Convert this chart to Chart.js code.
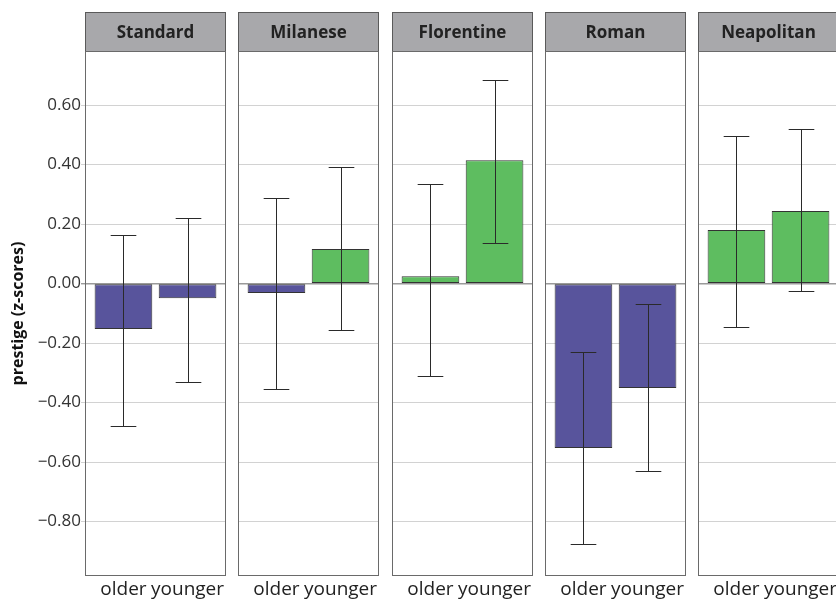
<!DOCTYPE html>
<html>
<head>
<meta charset="utf-8">
<script src="https://cdn.jsdelivr.net/npm/chart.js@4.4.1/dist/chart.umd.min.js"></script>
<style>
  body { margin: 0; background: #fff; }
  #wrap { position: relative; width: 836px; height: 602px; overflow: hidden; }
  #wrap canvas { position: absolute; top: 0; }
</style>
</head>
<body>
<div id="wrap"></div>
<script>
const dialects = ['Standard', 'Milanese', 'Florentine', 'Roman', 'Neapolitan'];
const ages = ['older', 'younger'];
const olderMean = [-0.153, -0.032, 0.025, -0.553, 0.180];
const youngerMean = [-0.049, 0.116, 0.415, -0.351, 0.244];
const olderLow = [-0.479, -0.355, -0.311, -0.876, -0.146];
const olderHigh = [0.163, 0.287, 0.334, -0.230, 0.496];
const youngerLow = [-0.331, -0.156, 0.136, -0.630, -0.025];
const youngerHigh = [0.220, 0.392, 0.684, -0.069, 0.519];
const yTicks = [-0.8, -0.6, -0.4, -0.2, 0, 0.2, 0.4, 0.6];

const PURPLE = '#58549c';
const GREEN = '#5ebd60';
const FONT = "'Open Sans', 'DejaVu Sans', sans-serif";

const fmt = v => (v < 0 ? '\u2212' : '') + Math.abs(v).toFixed(2);

// gray strip behind the facet title
const stripPlugin = {
  id: 'strip',
  beforeDraw(chart) {
    const { ctx, chartArea } = chart;
    ctx.save();
    ctx.fillStyle = '#a8a8ab';
    ctx.fillRect(chartArea.left, 12, chartArea.right - chartArea.left, chartArea.top - 12);
    ctx.restore();
  },
  afterDraw(chart) {
    const { ctx, chartArea } = chart;
    ctx.save();
    ctx.strokeStyle = '#5a5a5a';
    ctx.lineWidth = 1;
    ctx.strokeRect(Math.round(chartArea.left) + 0.5, 12.5, Math.round(chartArea.right - chartArea.left) - 1, Math.round(chartArea.top) - 12);
    ctx.strokeStyle = '#6a6a6a';
    ctx.strokeRect(Math.round(chartArea.left) + 0.5, Math.round(chartArea.top) + 0.5,
      Math.round(chartArea.right - chartArea.left) - 1, Math.round(chartArea.bottom - chartArea.top) - 1);
    ctx.restore();
  }
};

// error bars
const errorPlugin = {
  id: 'errbars',
  afterDatasetsDraw(chart, args, opts) {
    const { ctx, scales } = chart;
    const x = scales.x, y = scales.y;
    const half = x.getPixelForValue(1.2) - x.getPixelForValue(1);
    ctx.save();
    ctx.strokeStyle = '#2a2a2a';
    ctx.lineWidth = 1;
    opts.low.forEach((lo, j) => {
      const px = Math.round(x.getPixelForValue(j + 1)) + 0.5;
      const y1 = y.getPixelForValue(lo);
      const y2 = y.getPixelForValue(opts.high[j]);
      ctx.beginPath();
      ctx.moveTo(px, y1); ctx.lineTo(px, y2);
      ctx.moveTo(px - half, Math.round(y1) + 0.5); ctx.lineTo(px + half, Math.round(y1) + 0.5);
      ctx.moveTo(px - half, Math.round(y2) + 0.5); ctx.lineTo(px + half, Math.round(y2) + 0.5);
      ctx.stroke();
    });
    ctx.restore();
  }
};

const wrap = document.getElementById('wrap');
const panelW = 141;

dialects.forEach((name, i) => {
  const first = i === 0;
  const chartLeft = Math.round(85 + 153.25 * i);
  const yW = first ? 85 : 0;
  const canvas = document.createElement('canvas');
  const cw = yW + panelW + (first ? 1 : 2);
  canvas.width = cw;
  canvas.height = 602;
  canvas.style.left = (first ? 0 : chartLeft - 1) + 'px';
  canvas.style.width = cw + 'px';
  canvas.style.height = '602px';
  wrap.appendChild(canvas);

  const means = [olderMean[i], youngerMean[i]];

  new Chart(canvas, {
    type: 'bar',
    data: {
      datasets: [{
        data: ages.map((a, j) => ({ x: j + 1, y: means[j] })),
        backgroundColor: means.map(v => v < 0 ? PURPLE : GREEN),
        borderColor: '#333',
        borderWidth: 1,
        borderSkipped: false,
        categoryPercentage: 1,
        barPercentage: 0.9
      }]
    },
    options: {
      responsive: false,
      animation: false,
      layout: { padding: { top: 12, left: first ? 0 : 1, right: 1, bottom: 0 } },
      plugins: {
        legend: { display: false },
        tooltip: { enabled: false },
        title: {
          display: true,
          text: name,
          fullSize: false,
          color: '#222',
          font: { family: FONT, size: 17, weight: 'bold' },
          padding: { top: 11, bottom: 7.6 }
        },
        errbars: { low: [olderLow[i], youngerLow[i]], high: [olderHigh[i], youngerHigh[i]] }
      },
      scales: {
        x: {
          type: 'linear',
          min: 0.4,
          max: 2.6,
          offset: false,
          afterBuildTicks: s => { s.ticks = ages.map((a, j) => ({ value: j + 1 })); },
          afterFit: s => { s.height = 26; },
          grid: { display: false, drawTicks: false },
          border: { display: false },
          ticks: {
            color: '#222',
            padding: 2,
            autoSkip: false,
            maxRotation: 0,
            font: { family: FONT, size: 19 },
            callback: v => ages[v - 1]
          }
        },
        y: {
          min: -0.983,
          max: 0.782,
          afterBuildTicks: s => { s.ticks = yTicks.map(v => ({ value: v })); },
          afterFit: s => { s.width = yW; },
          border: { display: false },
          grid: {
            color: c => c.tick && c.tick.value === 0 ? '#9a9a9a' : '#d2d2d2',
            lineWidth: c => c.tick && c.tick.value === 0 ? 1.4 : 1,
            drawTicks: first,
            tickLength: 4
          },
          title: {
            display: first,
            text: 'prestige (z-scores)',
            color: '#111',
            font: { family: FONT, size: 16, weight: 'bold' },
            padding: { top: 9, bottom: 0 }
          },
          ticks: {
            display: first,
            color: '#333',
            padding: 0,
            font: { family: FONT, size: 17 },
            callback: v => fmt(v)
          }
        }
      }
    },
    plugins: [stripPlugin, errorPlugin]
  });
});
</script>
</body>
</html>
